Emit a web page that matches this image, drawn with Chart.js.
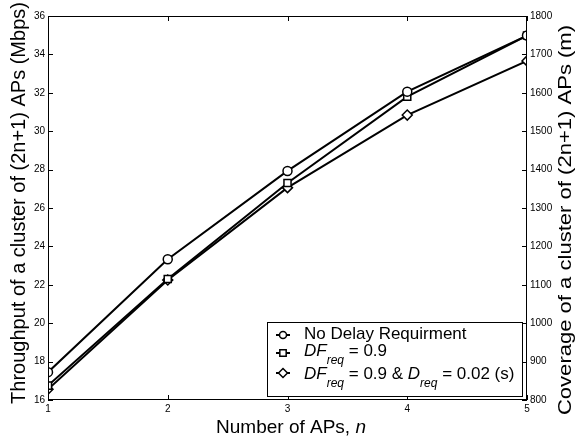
<!DOCTYPE html>
<html>
<head>
<meta charset="utf-8">
<script src="https://cdn.jsdelivr.net/npm/chart.js@4.4.1/dist/chart.umd.min.js"></script>
<style>
  html, body { margin: 0; padding: 0; background: #fff; }
  #wrap { width: 576px; height: 437px; }
</style>
</head>
<body>
<div id="wrap"><canvas id="apChart" width="576" height="437"></canvas></div>
<script>
// Throughput / coverage vs number of APs
const nAPs = [1, 2, 3, 4, 5];
const noDelay = [17.45, 23.33, 27.93, 32.06, 34.98];
const dfReq = [16.75, 22.3, 27.3, 31.8, 34.98];
const dfDelayReq = [16.56, 22.25, 27.06, 30.84, 33.66];

const leftTicks = [16, 18, 20, 22, 24, 26, 28, 30, 32, 34, 36];
const rightTicks = [800, 900, 1000, 1100, 1200, 1300, 1400, 1500, 1600, 1700, 1800];

const leftTitle = 'Throughput of a cluster of (2n+1) APs (Mbps)';
const rightTitle = 'Coverage of a cluster of (2n+1) APs (m)';

const FONT = "'Liberation Sans', Arial, Helvetica, sans-serif";

const toPoints = ys => nAPs.map((x, i) => ({ x: x, y: ys[i] }));

// legend rows: pieces of text, [text, italic, subscript]
const legendRows = [
    { style: 'circle', parts: [['No Delay Requirment', false, false]] },
    { style: 'rect', parts: [['DF', true, false], ['req', true, true], [' = 0.9', false, false]] },
    { style: 'rectRot', parts: [['DF', true, false], ['req', true, true], [' = 0.9 & ', false, false],
        ['D', true, false], ['req', true, true], [' = 0.02 (s)', false, false]] }
];

function vText(ctx, text, x, y, size, stretch) {
    ctx.save();
    ctx.translate(x, y);
    ctx.rotate(-Math.PI / 2);
    ctx.scale(stretch, 1);
    ctx.font = size + 'px ' + FONT;
    ctx.textAlign = 'center';
    ctx.textBaseline = 'middle';
    ctx.fillText(text, 0, 0);
    ctx.restore();
}

// MATLAB-style box with inward ticks, axis titles and legend
const matlabFrame = {
    id: 'matlabFrame',
    afterDraw(chart) {
        const ctx = chart.ctx;
        const a = chart.chartArea;
        const x = chart.scales.x, yl = chart.scales.y, yr = chart.scales.y2;
        const len = 5;
        ctx.save();
        ctx.strokeStyle = '#000';
        ctx.lineWidth = 1;
        ctx.strokeRect(a.left + 0.5, a.top + 0.5, a.right - a.left - 1, a.bottom - a.top - 1);
        ctx.beginPath();
        x.ticks.forEach(t => {
            const px = Math.round(x.getPixelForValue(t.value)) + 0.5;
            ctx.moveTo(px, a.bottom); ctx.lineTo(px, a.bottom - len);
            ctx.moveTo(px, a.top); ctx.lineTo(px, a.top + len);
        });
        yl.ticks.forEach(t => {
            const py = Math.round(yl.getPixelForValue(t.value)) + 0.5;
            ctx.moveTo(a.left, py); ctx.lineTo(a.left + len, py);
        });
        yr.ticks.forEach(t => {
            const py = Math.round(yr.getPixelForValue(t.value)) + 0.5;
            ctx.moveTo(a.right, py); ctx.lineTo(a.right - len, py);
        });
        ctx.stroke();

        // axis titles
        ctx.fillStyle = '#000';
        vText(ctx, leftTitle, 19, 203, 20, 1);
        vText(ctx, rightTitle, 566, 220, 19, 1.16);

        // x axis title with italic n
        ctx.textBaseline = 'alphabetic';
        const t1 = 'Number of APs, ';
        ctx.font = 'italic 19px ' + FONT;
        const w2 = ctx.measureText('n').width;
        ctx.font = '19px ' + FONT;
        const w1 = ctx.measureText(t1).width;
        const tx = 291 - (w1 + w2) / 2;
        ctx.textAlign = 'left';
        ctx.fillText(t1, tx, 433);
        ctx.font = 'italic 19px ' + FONT;
        ctx.fillText('n', tx + w1, 433);

        // legend
        const box = { l: 267, t: 322, r: 522, b: 396 };
        ctx.fillStyle = '#fff';
        ctx.fillRect(box.l, box.t, box.r - box.l, box.b - box.t);
        ctx.lineWidth = 1;
        ctx.strokeRect(box.l + 0.5, box.t + 0.5, box.r - box.l, box.b - box.t);
        const markY = [335, 353, 373];
        const textY = [334, 351, 374];
        legendRows.forEach((row, i) => {
            const cy = markY[i];
            const mx = 283;
            ctx.strokeStyle = '#000';
            ctx.lineWidth = 2;
            ctx.beginPath();
            ctx.moveTo(mx - 7, cy); ctx.lineTo(mx + 7, cy);
            ctx.stroke();
            ctx.fillStyle = '#fff';
            ctx.lineWidth = 1.5;
            Chart.helpers.drawPoint(ctx, { pointStyle: row.style, radius: row.style === 'circle' ? 3.5 : 4.5, borderWidth: 1.5, rotation: 0 }, mx, cy);
            let px = 304;
            row.parts.forEach(p => {
                const size = p[2] ? 12 : 17;
                ctx.font = (p[1] ? 'italic ' : '') + size + 'px ' + FONT;
                ctx.fillStyle = '#000';
                ctx.textBaseline = 'middle';
                const yy = p[2] ? textY[i] + 10 : textY[i];
                ctx.fillText(p[0], px, yy);
                px += ctx.measureText(p[0]).width;
            });
        });
        ctx.restore();
    }
};

const lineStyle = (label, data, style, radius) => ({
    label: label,
    data: toPoints(data),
    borderColor: '#000',
    borderWidth: 2,
    pointStyle: style,
    pointRadius: radius,
    pointBorderWidth: 1.5,
    pointBackgroundColor: '#fff',
    pointBorderColor: '#000',
    tension: 0,
    yAxisID: 'y'
});

const tickFont = { family: FONT, size: 10 };

new Chart(document.getElementById('apChart'), {
    type: 'line',
    data: {
        datasets: [
            lineStyle('No Delay Requirment', noDelay, 'circle', 4.5),
            lineStyle('DF_req = 0.9', dfReq, 'rect', 5),
            lineStyle('DF_req = 0.9 & D_req = 0.02 (s)', dfDelayReq, 'rectRot', 5)
        ]
    },
    options: {
        responsive: false,
        animation: false,
        layout: { padding: { top: 16, left: 0, right: 0, bottom: 0 } },
        plugins: { legend: { display: false }, tooltip: { enabled: false } },
        scales: {
            x: {
                type: 'linear',
                min: 1, max: 5,
                grid: { display: false, drawTicks: false },
                border: { display: false },
                ticks: { stepSize: 1, padding: 3, color: '#000', font: tickFont },
                afterFit: s => { s.height = 37; }
            },
            y: {
                position: 'left',
                min: 16, max: 36,
                afterBuildTicks: s => { s.ticks = leftTicks.map(v => ({ value: v })); },
                grid: { display: false, drawTicks: false },
                border: { display: false },
                ticks: { padding: 3, color: '#000', font: tickFont, callback: v => String(v) },
                afterFit: s => { s.width = 48; }
            },
            y2: {
                position: 'right',
                min: 800, max: 1800,
                afterBuildTicks: s => { s.ticks = rightTicks.map(v => ({ value: v })); },
                grid: { display: false, drawTicks: false },
                border: { display: false },
                ticks: { padding: 3, color: '#000', font: tickFont, callback: v => String(v) },
                afterFit: s => { s.width = 49; }
            }
        }
    },
    plugins: [matlabFrame]
});
</script>
</body>
</html>
